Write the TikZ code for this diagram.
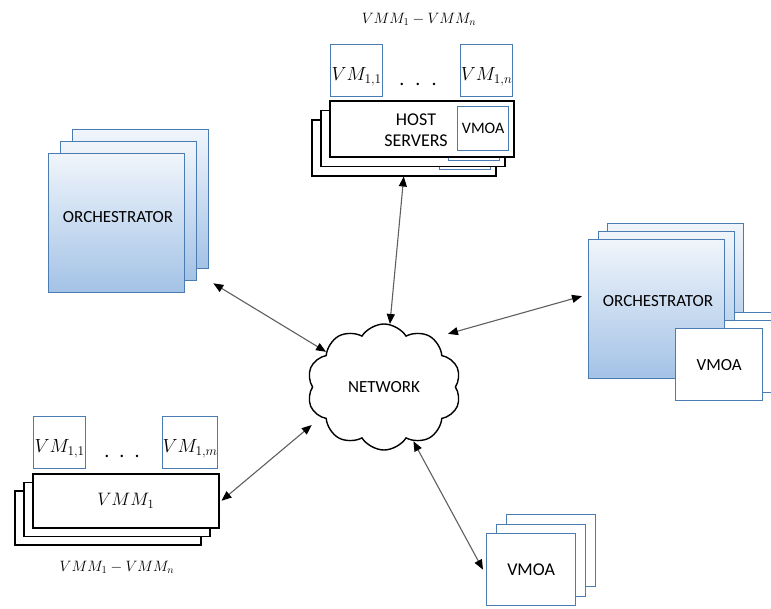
\RequirePackage{fix-cm}
\documentclass[tikz,border=0pt]{standalone}
\usepackage{fontspec}
\setmainfont{Carlito}
\usepackage{tikz}
\usetikzlibrary{shapes.symbols,arrows.meta}
\definecolor{boxblue}{RGB}{74,124,178}
\definecolor{orchtop}{RGB}{240,245,251}
\definecolor{orchbot}{RGB}{163,194,230}
\definecolor{linkgray}{RGB}{95,95,95}
\newcommand{\fsz}[1]{\fontsize{#1}{#1}\selectfont}
\tikzset{
  blubox/.style={draw=boxblue,line width=1.3pt,fill=white,anchor=north west,inner sep=0pt},
  vmbox/.style={blubox,minimum width=52pt,minimum height=52pt,text height=22pt,text depth=2pt,font=\fsz{19}},
  orch/.style={draw=boxblue,line width=1.3pt,top color=orchtop,bottom color=orchbot,
    anchor=north west,minimum width=136pt,minimum height=139pt},
  hostbox/.style={draw=black,line width=1.5pt,fill=white,anchor=north west,minimum width=184pt,minimum height=56pt},
  vmmbox/.style={draw=black,line width=1.5pt,fill=white,anchor=north west,minimum width=186pt,minimum height=54pt},
  link/.style={draw=linkgray,line width=1.1pt,<->,>={Triangle[length=10pt,width=8pt,color=black]}}
}

\begin{document}
\begin{tikzpicture}[x=1pt,y=-1pt]
  \useasboundingbox (0,0) rectangle (771,608);
  \clip (0,0) rectangle (771,608);

  % top: host servers
  \node[font=\fsz{15}] (vmmtop) at (419,19) {$VMM_1 - VMM_n$};
  \node[vmbox] (vmT1) at (330,44) {$VM_{1,1}$};
  \node[vmbox] (vmTn) at (460,44) {$VM_{1,n}$};
  \node[font=\fsz{20}] (dotsT) at (418,84) {.\hspace{11pt}.\hspace{11pt}.};
  \node[hostbox] (host2) at (311,119) {};
  \node[blubox,minimum width=51pt,minimum height=44pt] (vmoaH2) at (439,125) {};
  \node[hostbox] (host1) at (320,109.5) {};
  \node[blubox,minimum width=51pt,minimum height=44pt] (vmoaH1) at (448,115.5) {};
  \node[hostbox] (host) at (329,100) {};
  \node[blubox,minimum width=51pt,minimum height=44pt,font=\fsz{16}] (vmoaH) at (457,106) {VMOA};
  \node[font=\fsz{18},align=center] (hosttxt) at (416,130) {HOST\\[3pt]SERVERS};

  % left orchestrator
  \node[orch] (orchL2) at (72,129) {};
  \node[orch] (orchL1) at (60,141) {};
  \node[orch] (orchL) at (48,153) {};
  \node[font=\fsz{17}] (orchLtxt) at (118,217) {ORCHESTRATOR};

  % right orchestrator with vmoa
  \node[orch] (orchR2) at (607,223) {};
  \node[blubox,minimum width=87pt,minimum height=72pt] (vmoaR2) at (694,312) {};
  \node[orch] (orchR1) at (597.5,231) {};
  \node[blubox,minimum width=87pt,minimum height=72pt] (vmoaR1) at (684.5,320) {};
  \node[orch] (orchR) at (588,239) {};
  \node[blubox,minimum width=87pt,minimum height=72pt,font=\fsz{17}] (vmoaR) at (675,328) {VMOA};
  \node[font=\fsz{17}] (orchRtxt) at (658,301) {ORCHESTRATOR};

  % bottom left: vmm
  \node[vmbox] (vmB1) at (33,416) {$VM_{1,1}$};
  \node[vmbox,minimum width=54pt] (vmBm) at (162,416) {$VM_{1,m}$};
  \node[font=\fsz{20}] (dotsB) at (122,456) {.\hspace{10pt}.\hspace{10pt}.};
  \node[vmmbox] (vmm2) at (14,490) {};
  \node[vmmbox] (vmm1) at (23,481.5) {};
  \node[vmmbox,font=\fsz{18}] (vmm) at (32,473) {$VMM_1$};
  \node[font=\fsz{15}] (vmmbot) at (117,567) {$VMM_1 - VMM_n$};

  % bottom right: vmoa
  \node[blubox,minimum width=89pt,minimum height=72pt] (vmoaB2) at (506,514) {};
  \node[blubox,minimum width=89pt,minimum height=72pt] (vmoaB1) at (496,523.5) {};
  \node[blubox,minimum width=89pt,minimum height=72pt,font=\fsz{18}] (vmoaB) at (486,533) {VMOA};

  % network
  \node[cloud,draw,line width=1.4pt,cloud puffs=10,cloud puff arc=115,aspect=1.2,minimum width=154pt,
    minimum height=126pt,font=\fsz{17}] (net) at (384,387) {NETWORK};

  \draw[link] ([shift={(4pt,-14pt)}]orchL2.south east) -- (net);
  \draw[link] (host2.south) -- (net);
  \draw[link] ([shift={(10pt,9pt)}]net.north east) -- ([shift={(-6pt,13pt)}]orchR.west);
  \draw[link] ([xshift=2pt]vmm.east) -- ([yshift=-38pt]net.west);
  \draw[link] (net) -- ([xshift=-3pt]vmoaB.west);
\end{tikzpicture}
\end{document}
